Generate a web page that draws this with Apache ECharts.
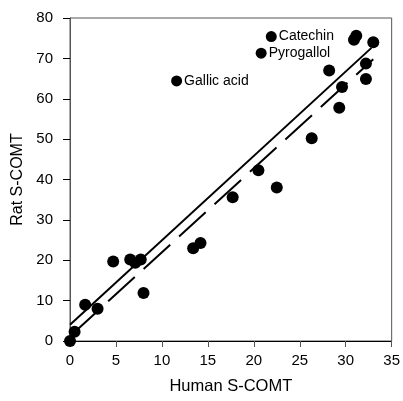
<!DOCTYPE html>
<html>
<head>
<meta charset="utf-8">
<script src="https://cdn.jsdelivr.net/npm/echarts@6/dist/echarts.min.js"></script>
<style>
  html, body { margin: 0; padding: 0; background: #fff; }
  #chart { width: 403px; height: 401px; }
</style>
</head>
<body>
<div id="chart"></div>
<script>
// data
var humanVals = [0, 0.5, 1.65, 3.0, 4.7, 6.55, 7.1, 7.7, 8.0, 13.4, 14.2, 17.7, 20.5, 22.5, 26.3, 28.2, 29.3, 29.6, 30.9, 31.15, 32.2, 32.2, 33.0];
var ratVals = [0, 2.3, 9.0, 8.0, 19.7, 20.2, 19.4, 20.2, 11.9, 23.0, 24.3, 35.6, 42.3, 38.0, 50.2, 67.0, 57.8, 62.9, 74.6, 75.6, 68.7, 64.9, 74.0];
var namedNames = ['Gallic acid', 'Pyrogallol', 'Catechin'];
var namedHuman = [11.6, 20.8, 21.9];
var namedRat = [64.4, 71.3, 75.4];
// fitted lines (end points)
var solidX = [0, 32.8];
var solidY = [4.0, 72.6];
var dashX = [0.3, 33.0];
var dashY = [1.8, 69.8];
var xTicks = [0, 5, 10, 15, 20, 25, 30, 35];
var yTicks = [0, 10, 20, 30, 40, 50, 60, 70, 80];

(function() {
  var font = 'Liberation Sans, Arial, sans-serif';
  var pts = humanVals.map(function(x, i) { return [x, ratVals[i]]; });
  var named = namedHuman.map(function(x, i) { return { name: namedNames[i], value: [x, namedRat[i]] }; });
  var solid = solidX.map(function(x, i) { return [x, solidY[i]]; });
  var dashed = dashX.map(function(x, i) { return [x, dashY[i]]; });

  var chart = echarts.init(document.getElementById('chart'), null, { renderer: 'canvas' });
  chart.setOption({
    animation: false,
    backgroundColor: '#fff',
    textStyle: { fontFamily: font },
    grid: { left: 70, right: 10, top: 18, bottom: 60, show: true, borderColor: '#555', borderWidth: 1 },
    xAxis: {
      type: 'value',
      min: xTicks[0], max: xTicks[xTicks.length - 1], interval: 5,
      name: 'Human S-COMT', nameLocation: 'middle', nameGap: 37,
      nameTextStyle: { color: '#000', fontSize: 16.5, fontFamily: font },
      axisLine: { lineStyle: { color: '#000', width: 1 } },
      axisTick: { inside: false, length: 6, lineStyle: { color: '#555' } },
      axisLabel: { color: '#000', fontSize: 15, margin: 12, fontFamily: font },
      splitLine: { show: false }
    },
    yAxis: {
      type: 'value',
      min: yTicks[0], max: yTicks[yTicks.length - 1], interval: 10,
      name: 'Rat S-COMT', nameLocation: 'middle', nameGap: 42,
      nameTextStyle: { color: '#000', fontSize: 16, fontFamily: font },
      axisLine: { lineStyle: { color: '#555', width: 1 } },
      axisTick: { inside: false, length: 7, lineStyle: { color: '#000' } },
      axisLabel: { color: '#000', fontSize: 15, margin: 17, fontFamily: font },
      splitLine: { show: false }
    },
    series: [
      {
        type: 'line', data: solid, symbol: 'none', clip: false,
        lineStyle: { color: '#000', width: 2 }
      },
      {
        type: 'line', data: dashed, symbol: 'none', clip: false,
        lineStyle: { color: '#000', width: 2, type: [36, 12] }
      },
      {
        type: 'scatter', data: pts, symbol: 'circle', symbolSize: 12, clip: false,
        itemStyle: { color: '#000', opacity: 1 }
      },
      {
        type: 'scatter', data: named, symbol: 'circle', symbolSize: 11, clip: false,
        itemStyle: { color: '#000', opacity: 1 },
        label: {
          show: true, position: 'right', distance: 2,
          formatter: '{b}', color: '#000', fontSize: 14, fontFamily: font
        }
      }
    ]
  });
  window.addEventListener('resize', function() { chart.resize(); });
})();
</script>
</body>
</html>
